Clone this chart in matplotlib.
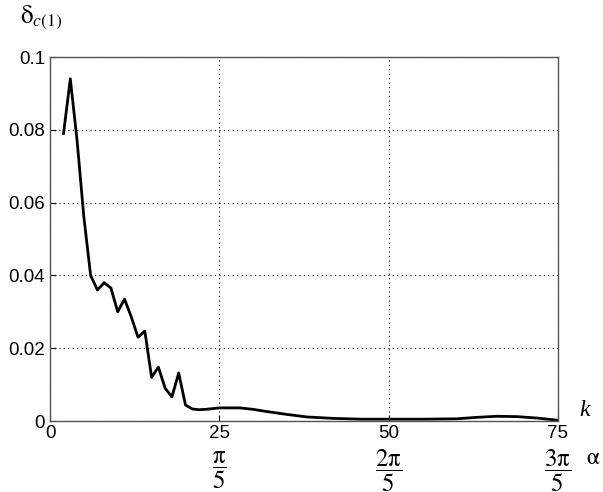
import numpy as np
import matplotlib
matplotlib.use('Agg')
from matplotlib import pyplot as plt

# Error of the first coefficient versus harmonic number k
k = [2, 3, 4, 5, 6, 7, 8, 9, 10, 11, 12, 13, 14, 15, 16, 17, 18, 19, 20,
     21, 22, 23, 25, 28, 30, 32, 35, 38, 42, 46, 50, 55, 60, 63, 66, 69,
     72, 75]
delta = [0.079, 0.094, 0.077, 0.056, 0.040, 0.036, 0.038, 0.0365, 0.030,
         0.0335, 0.0286, 0.023, 0.0247, 0.012, 0.0148, 0.009, 0.0066,
         0.0132, 0.0044, 0.0033, 0.0031, 0.0032, 0.0036, 0.0036, 0.0032,
         0.0026, 0.0018, 0.0011, 0.0007, 0.0005, 0.0005, 0.0005, 0.0006,
         0.0010, 0.0013, 0.0012, 0.0008, 0.0002]

x_ticks = [0, 25, 50, 75]
y_ticks = [0, 0.02, 0.04, 0.06, 0.08, 0.1]
y_labels = ['0', '0.02', '0.04', '0.06', '0.08', '0.1']
alpha_ticks = [25, 50, 75]
alpha_labels = [r'$\dfrac{\mathrm{\pi}}{5}$', r'$\dfrac{2\mathrm{\pi}}{5}$',
                r'$\dfrac{3\mathrm{\pi}}{5}$']

plt.rcParams['font.family'] = ['Liberation Sans', 'DejaVu Sans']
plt.rcParams['mathtext.fontset'] = 'stix'

fig = plt.figure(figsize=(6.03, 4.92), dpi=100)
ax = fig.add_axes([50 / 603, 1 - 421 / 492, 508 / 603, 364 / 492])

ax.plot(k, delta, color='black', lw=2.0)

ax.set_xlim(0, 75)
ax.set_ylim(0, 0.1)
ax.set_xticks(x_ticks)
ax.set_xticklabels([str(v) for v in x_ticks])
ax.set_yticks(y_ticks)
ax.set_yticklabels(y_labels)
ax.tick_params(direction='in', length=4, labelsize=13.5, colors='black',
               width=0.8)
ax.tick_params(axis='x', pad=3)
ax.grid(True, color='black', linestyle=(0, (1, 3)), lw=0.8)
for s in ax.spines.values():
    s.set_color('#555555')
    s.set_linewidth(1.0)

# second row of x labels: angle alpha
trans = ax.get_xaxis_transform()
for xv, lab in zip(alpha_ticks, alpha_labels):
    ax.text(xv, -(461 - 421) / 364, lab, ha='center', va='center_baseline',
            fontsize=18, transform=trans)

fig.text(585 / 603, 1 - 410 / 492, 'k', fontsize=17, style='italic',
         family='Liberation Serif', ha='center', va='center')
fig.text(593 / 603, 1 - 458 / 492, r'$\mathrm{\alpha}$', fontsize=17,
         ha='center', va='center')
fig.text(20 / 603, 1 - 17 / 492, r'$\mathrm{\delta}_{c(1)}$', fontsize=18,
         ha='left', va='center')

plt.savefig('out.png', dpi=100)
